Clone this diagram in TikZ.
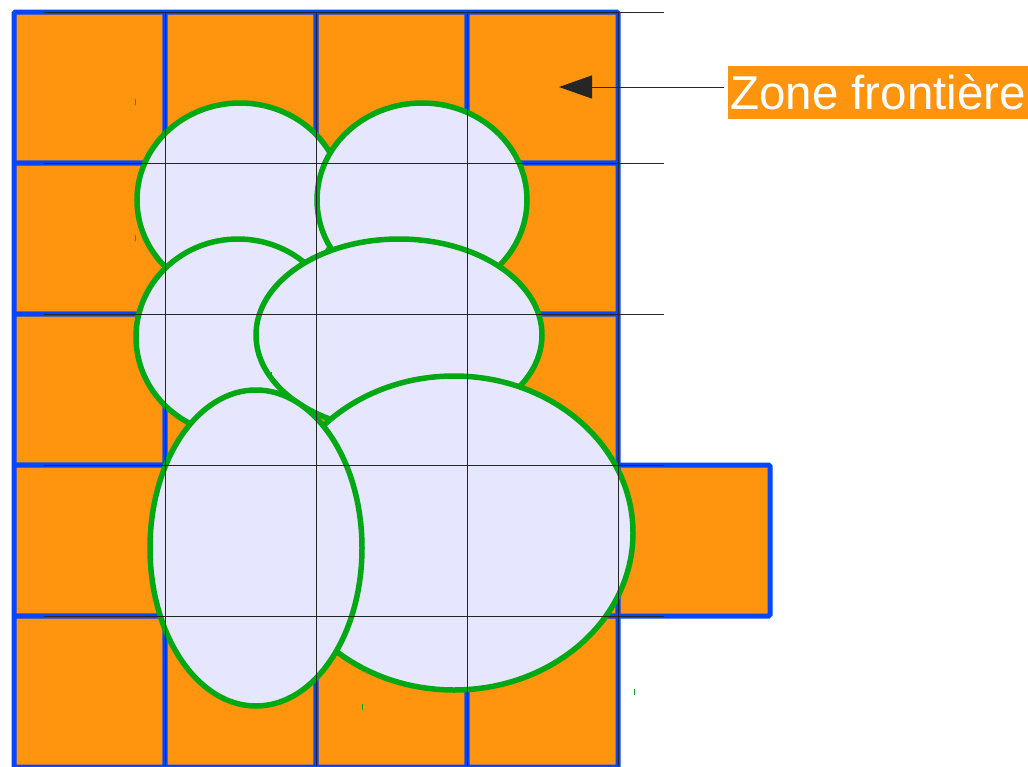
\documentclass[tikz,border=0pt]{standalone}
\usepackage{fontspec}
\newfontfamily\zonefont{Liberation Sans}
\usetikzlibrary{arrows.meta}
\definecolor{cellorange}{RGB}{255,148,14}
\definecolor{cellblue}{RGB}{0,71,255}
\definecolor{blobgreen}{RGB}{0,168,20}
\definecolor{blobfill}{RGB}{230,230,255}
\tikzset{
  cell/.style={draw=cellblue, fill=cellorange, line width=5pt, rounded corners=1.5pt},
  blob/.style={draw=blobgreen, fill=blobfill, line width=5.5pt},
  gridln/.style={black!85, line width=1pt},
  blobtick/.style={blobgreen, line width=1pt},
  ptr/.style={-{Triangle[length=33pt,width=23pt]}, black!85, line width=1pt, shorten <=4pt},
  zonelbl/.style={fill=cellorange, text=white, font=\zonefont\fontsize{47.5}{56}\selectfont,
                  inner xsep=2pt, inner ysep=0pt, minimum height=53pt, text depth=0pt},
}

\begin{document}
\begin{tikzpicture}[x=1pt,y=-1pt]
  \useasboundingbox (0,0) rectangle (1028,766);
  % orange cells
  \foreach \c in {0,...,3}
    \foreach \r in {0,...,4}
      \draw[cell] ({14+151*\c},{12+151*\r}) rectangle ++(151,151);
  \draw[cell] (618,465) rectangle ++(152,151);
  % ellipses, back to front
  \draw[blob] (240,200) ellipse [x radius=103, y radius=97];
  \draw[blob] (422,200) ellipse [x radius=105, y radius=97];
  \draw[blob] (238,337) ellipse [x radius=102, y radius=98];
  \draw[blob] (399,335) ellipse [x radius=143, y radius=96];
  \draw[blob] (454,533) ellipse [x radius=179, y radius=157];
  \draw[blob] (256,548) ellipse [x radius=106, y radius=158];
  % stray marks
  \foreach \p in {(135,102),(135,238),(271,375),(362,707),(634,692)}
    \draw[blobtick] \p ++(0,-3) -- ++(0,6);
  % grid lines
  \foreach \r in {0,...,4}
    \draw[gridln] (44,{12+151*\r}) -- (664,{12+151*\r});
  \foreach \c in {1,...,4}
    \draw[gridln] ({14+151*\c},12) -- ({14+151*\c},766);
  % label
  \node[zonelbl, anchor=west] (zone) at (728,92.5) {Zone frontière};
  \coordinate (target) at (559,87);
  \draw[ptr] (zone.west |- target) -- (target);
\end{tikzpicture}
\end{document}
